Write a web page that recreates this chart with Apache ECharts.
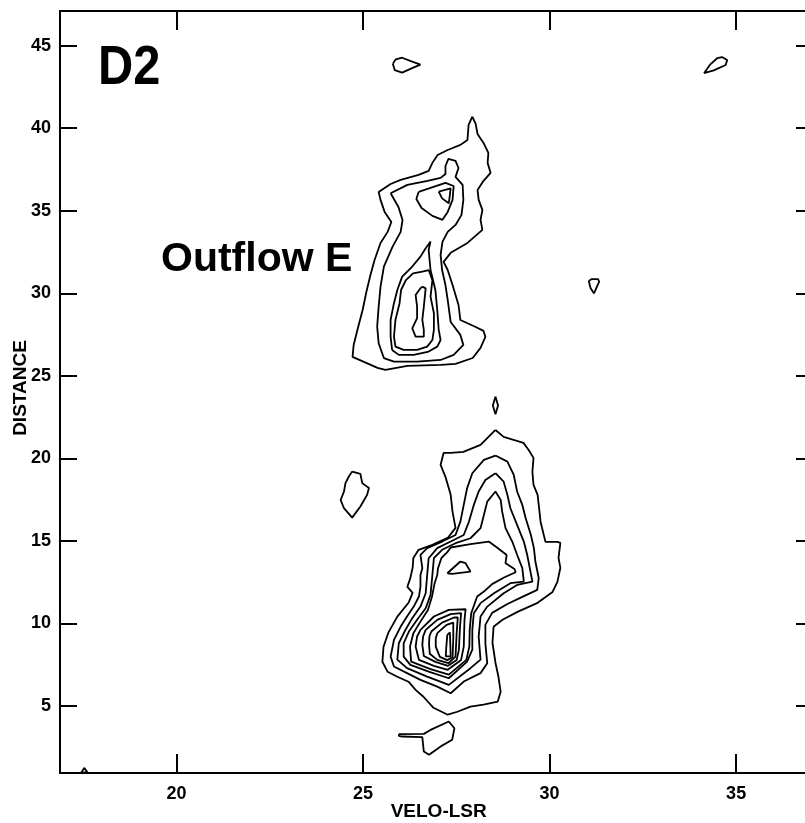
<!DOCTYPE html>
<html><head><meta charset="utf-8">
<script src="https://cdn.jsdelivr.net/npm/echarts@6/dist/echarts.min.js"></script>
<style>html,body{margin:0;padding:0;background:#fff;overflow:hidden}#c{width:830px;height:823px}</style>
</head><body><div id="c"></div>
<script>
// Axis ticks and ranges (VELO-LSR vs DISTANCE)
const xTicks = [20, 25, 30, 35];
const yTicks = [5, 10, 15, 20, 25, 30, 35, 40, 45];
const xRange = [16.88, 37.06];
const yRange = [0.94, 47.10];

// ---- Outflow E (upper cluster) contours, [velocity, distance] ----
const upperL1 = [[27.93,40.70],[28.02,40.26],[28.07,39.65],[28.23,39.11],[28.36,38.50],[28.34,37.90],[28.42,37.29],[28.23,36.81],[28.07,36.26],[28.10,35.66],[28.20,35.05],[28.15,34.45],[28.20,33.84],[27.80,33.05],[27.35,32.45],[27.16,31.90],[27.27,31.41],[27.40,30.50],[27.56,29.29],[27.61,28.38],[28.02,27.96],[28.23,27.72],[28.28,27.36],[28.15,26.69],[27.94,26.08],[27.48,25.72],[27.08,25.66],[26.19,25.60],[25.60,25.36],[25.39,25.48],[24.72,26.15],[24.75,26.87],[24.85,27.78],[24.99,28.99],[25.09,30.08],[25.20,31.11],[25.31,32.02],[25.47,33.05],[25.66,33.72],[25.76,34.32],[25.58,34.93],[25.47,35.66],[25.42,36.14],[25.74,36.62],[26.01,36.87],[26.49,37.17],[26.76,37.41],[26.86,37.90],[27.00,38.38],[27.27,38.68],[27.61,38.99],[27.80,39.29],[27.83,40.20]];
const upperL2 = [[25.74,36.06],[25.95,35.23],[26.06,34.44],[26.01,33.72],[25.79,32.81],[25.56,31.61],[25.47,30.40],[25.42,29.19],[25.38,27.98],[25.42,26.97],[25.56,26.07],[25.83,25.86],[26.45,25.86],[27.08,25.96],[27.43,26.27],[27.69,26.87],[27.61,27.48],[27.35,28.26],[27.27,29.60],[27.21,30.50],[27.12,31.41],[27.08,32.33],[27.13,33.11],[27.27,33.72],[27.48,34.14],[27.64,34.75],[27.69,35.66],[27.67,36.57],[27.48,37.05],[27.56,37.59],[27.48,38.02],[27.29,38.14],[27.21,37.71],[27.21,37.23],[27.08,36.99],[26.73,36.81],[26.19,36.57]];
const upperL3a = [[26.49,36.14],[27.21,36.69],[27.43,36.50],[27.40,35.66],[27.27,34.93],[27.13,34.45],[26.86,34.69],[26.57,35.17],[26.43,35.71]];
const upperL4a = [[27.03,36.16],[27.35,36.36],[27.30,35.45],[27.12,35.75]];
const upperL3b = [[25.78,26.57],[25.74,27.37],[25.74,28.39],[25.83,29.40],[25.92,30.20],[26.05,31.01],[26.32,31.62],[26.54,32.22],[26.68,32.73],[26.81,33.13],[26.76,32.63],[26.81,31.41],[26.94,30.20],[26.99,28.99],[27.03,27.78],[27.08,27.17],[26.99,26.77],[26.76,26.47],[26.36,26.27],[25.96,26.27]];
const upperL4b = [[26.59,31.31],[26.76,31.41],[26.86,30.80],[26.81,29.80],[26.90,28.79],[26.90,27.78],[26.86,27.17],[26.72,26.77],[26.45,26.57],[26.09,26.57],[25.87,26.77],[25.83,27.37],[25.87,28.39],[25.98,29.40],[26.02,30.20],[26.15,30.80],[26.34,31.21]];
const upperL5 = [[26.59,30.40],[26.68,30.30],[26.63,29.19],[26.59,28.39],[26.63,27.78],[26.63,27.37],[26.41,27.37],[26.32,27.88],[26.45,28.49],[26.45,29.19],[26.41,29.90],[26.54,30.30]];

// ---- lower cluster contours ----
const lowerL1 = [[28.55,21.72],[28.77,21.30],[29.30,20.94],[29.44,20.51],[29.57,20.03],[29.54,19.18],[29.57,18.39],[29.68,17.79],[29.71,17.18],[29.76,16.15],[29.89,14.94],[30.21,14.94],[30.29,14.88],[30.24,13.97],[30.29,13.37],[30.21,12.52],[30.08,11.91],[29.68,11.25],[29.14,10.70],[28.74,10.22],[28.50,9.80],[28.47,8.83],[28.55,7.62],[28.63,6.77],[28.69,5.86],[28.61,5.26],[28.23,5.08],[27.88,4.96],[27.53,4.65],[27.27,4.47],[26.89,4.89],[26.62,5.56],[26.41,5.98],[26.22,6.47],[25.92,6.77],[25.66,7.07],[25.52,7.68],[25.55,8.59],[25.68,9.44],[25.92,10.41],[26.22,11.25],[26.33,11.85],[26.19,12.22],[26.27,12.76],[26.33,13.37],[26.35,13.97],[26.49,14.46],[26.86,14.76],[27.27,15.18],[27.48,15.79],[27.40,16.76],[27.35,17.79],[27.21,18.88],[27.08,19.61],[27.16,20.33],[27.35,20.33],[27.69,20.39],[28.15,20.82]];
const lowerL2 = [[28.55,20.17],[28.87,19.80],[29.04,19.00],[29.13,17.99],[29.27,17.18],[29.36,16.37],[29.50,15.36],[29.58,14.56],[29.62,13.75],[29.71,12.74],[29.67,12.03],[29.27,11.61],[28.87,11.18],[28.46,10.64],[28.28,9.91],[28.28,8.80],[28.33,7.59],[28.15,6.99],[27.70,6.48],[27.35,5.77],[26.99,6.17],[26.54,6.58],[26.18,6.99],[25.83,7.39],[25.74,7.99],[25.83,9.00],[26.01,9.81],[26.18,10.42],[26.36,11.02],[26.50,11.63],[26.54,12.23],[26.54,12.94],[26.59,13.35],[26.54,14.16],[26.72,14.56],[27.12,14.96],[27.48,15.36],[27.61,16.17],[27.70,17.18],[27.79,18.19],[27.93,19.10],[28.24,19.91]];
const lowerL3 = [[28.55,19.10],[28.77,18.59],[28.87,17.79],[28.95,16.98],[29.13,15.97],[29.31,14.96],[29.40,14.16],[29.47,13.35],[29.54,12.53],[29.13,12.33],[28.77,11.83],[28.33,11.02],[28.15,10.42],[28.10,9.20],[28.15,7.81],[27.88,7.29],[27.30,6.28],[26.72,6.78],[26.18,7.29],[25.92,7.81],[25.96,8.80],[26.14,9.62],[26.32,10.32],[26.54,11.02],[26.68,11.83],[26.72,12.94],[26.76,13.95],[26.99,14.56],[27.35,14.96],[27.70,15.36],[27.84,16.17],[27.97,17.18],[28.10,17.99],[28.28,18.69]];
const lowerL4 = [[28.55,17.99],[28.69,17.48],[28.73,16.77],[28.82,15.77],[29.00,14.96],[29.13,14.16],[29.27,13.35],[29.31,12.53],[28.95,12.44],[28.51,11.83],[28.15,11.23],[27.97,10.62],[27.93,9.62],[27.93,8.41],[27.79,7.69],[27.30,6.68],[26.76,7.08],[26.27,7.49],[26.09,7.99],[26.09,8.80],[26.23,9.51],[26.45,10.22],[26.68,10.92],[26.81,11.73],[26.86,12.94],[26.90,13.95],[27.12,14.46],[27.48,14.86],[27.88,15.16],[28.15,15.77],[28.24,16.57],[28.33,17.38]];
const lowerL5 = [[27.27,14.35],[27.35,14.60],[27.88,14.80],[28.37,14.96],[28.60,14.59],[28.85,14.15],[28.82,13.65],[29.06,13.30],[29.09,13.10],[28.78,12.78],[28.46,12.38],[28.24,11.93],[28.06,11.63],[27.90,10.62],[27.86,9.61],[27.85,8.60],[27.77,7.79],[27.30,6.90],[26.81,7.23],[26.29,7.69],[26.26,8.60],[26.35,9.41],[26.54,10.11],[26.74,10.82],[26.85,11.63],[26.92,12.44],[26.99,12.94],[27.01,13.34],[27.10,13.95]];
const lowerL6a = [[27.26,13.04],[27.61,13.75],[27.75,13.65],[27.88,13.14],[27.39,13.00]];
const lowerL6b = [[26.54,9.61],[26.90,10.42],[27.30,10.82],[27.75,10.86],[27.72,10.22],[27.70,8.60],[27.63,7.79],[27.27,7.19],[26.90,7.43],[26.50,7.79],[26.41,8.60],[26.45,9.21]];
const lowerL7 = [[26.68,9.61],[26.99,10.22],[27.35,10.56],[27.63,10.62],[27.60,9.81],[27.57,8.40],[27.51,7.79],[27.28,7.43],[26.94,7.67],[26.63,8.03],[26.59,8.70],[26.61,9.21]];
const lowerL8 = [[26.83,9.51],[27.12,10.05],[27.44,10.36],[27.54,10.36],[27.51,9.41],[27.48,7.99],[27.29,7.59],[26.99,7.79],[26.79,8.16],[26.77,8.76],[26.78,9.21]];
const lowerL9 = [[26.99,9.41],[27.24,9.91],[27.42,10.05],[27.42,9.10],[27.40,7.95],[27.26,7.78],[27.06,7.97],[26.95,8.60],[26.95,9.10]];
const lowerL10 = [[27.26,9.31],[27.33,9.45],[27.35,8.00],[27.22,8.00],[27.23,8.50]];

// ---- isolated islands ----
const islandTopLeft = [[25.80,43.90],[25.88,44.17],[26.05,44.27],[26.30,44.05],[26.54,43.85],[26.30,43.62],[26.05,43.37],[25.85,43.52]];
const islandTopRight = [[34.14,43.33],[34.30,43.85],[34.50,44.25],[34.62,44.31],[34.76,44.13],[34.72,43.83],[34.40,43.50]];
const islandMid = [[31.05,30.75],[31.13,30.86],[31.30,30.86],[31.33,30.70],[31.19,30.00],[31.10,30.30]];
const islandLens = [[28.55,23.74],[28.62,23.20],[28.55,22.67],[28.48,23.20]];
const islandLeft = [[24.71,19.20],[24.93,19.06],[24.98,18.50],[25.16,18.20],[25.11,17.79],[24.93,17.08],[24.71,16.41],[24.49,16.98],[24.40,17.48],[24.49,17.99],[24.53,18.50],[24.62,18.90]];
const islandBottom = [[25.96,3.29],[26.63,3.31],[26.81,3.55],[27.30,4.06],[27.45,3.65],[27.39,2.95],[27.12,2.60],[26.77,2.04],[26.63,2.24],[26.59,3.11],[26.05,3.15],[25.96,3.19]];
const islandAxis = [[17.45,0.97],[17.53,1.25],[17.62,0.97]];

const contours = [upperL1, upperL2, upperL3a, upperL4a, upperL3b, upperL4b, upperL5,
  lowerL1, lowerL2, lowerL3, lowerL4, lowerL5, lowerL6a, lowerL6b, lowerL7, lowerL8, lowerL9, lowerL10,
  islandTopLeft, islandTopRight, islandMid, islandLens, islandLeft, islandBottom, islandAxis];

const FONT = '"Liberation Sans", Arial, Helvetica, sans-serif';
function closed(a) { return a.concat([a[0]]); }

const series = contours.map(c => ({
  type: 'line', data: closed(c), symbol: 'none', showSymbol: false, smooth: false,
  lineStyle: { color: '#000', width: 1.8 }, silent: true, animation: false,
  xAxisIndex: 0, yAxisIndex: 0
}));

function mkX(pos, showLabel) {
  return {
    type: 'value', position: pos, min: xRange[0], max: xRange[1],
    axisLine: { show: true, onZero: false, lineStyle: { color: '#000', width: 2 } },
    axisTick: { show: true, inside: true, length: 19, customValues: xTicks, lineStyle: { color: '#000', width: 2 } },
    axisLabel: { show: showLabel, customValues: xTicks, fontFamily: FONT, fontWeight: 'bold', fontSize: 18, color: '#000', margin: 12 },
    splitLine: { show: false }
  };
}
function mkY(pos, showLabel) {
  return {
    type: 'value', position: pos, min: yRange[0], max: yRange[1],
    axisLine: { show: true, onZero: false, lineStyle: { color: '#000', width: 2 } },
    axisTick: { show: true, inside: true, length: 17, customValues: yTicks, lineStyle: { color: '#000', width: 2 } },
    axisLabel: { show: showLabel, customValues: yTicks, fontFamily: FONT, fontWeight: 'bold', fontSize: 18, color: '#000', margin: 9 },
    splitLine: { show: false }
  };
}

const chart = echarts.init(document.getElementById('c'), null, { renderer: 'canvas' });
chart.setOption({
  animation: false,
  backgroundColor: '#fff',
  grid: { left: 60, top: 11, width: 753, height: 762, containLabel: false },
  xAxis: [mkX('bottom', true), mkX('top', false)],
  yAxis: [mkY('left', true), mkY('right', false)],
  series: series,
  graphic: [
    { type: 'text', x: 98, y: 68.3, scaleX: 0.87, style: { text: 'D2', fontFamily: FONT, fontWeight: 'bold', fontSize: 56, fill: '#000', align: 'left', verticalAlign: 'middle' } },
    { type: 'text', x: 161, y: 260, style: { text: 'Outflow E', fontFamily: FONT, fontWeight: 'bold', fontSize: 41, fill: '#000', align: 'left', verticalAlign: 'middle' } },
    { type: 'text', x: 438.7, y: 811.5, style: { text: 'VELO-LSR', fontFamily: FONT, fontWeight: 'bold', fontSize: 19, fill: '#000', align: 'center', verticalAlign: 'middle' } },
    { type: 'text', x: 20.5, y: 388, rotation: Math.PI / 2, style: { text: 'DISTANCE', fontFamily: FONT, fontWeight: 'bold', fontSize: 19, fill: '#000', align: 'center', verticalAlign: 'middle' } }
  ]
});
</script>
</body></html>
